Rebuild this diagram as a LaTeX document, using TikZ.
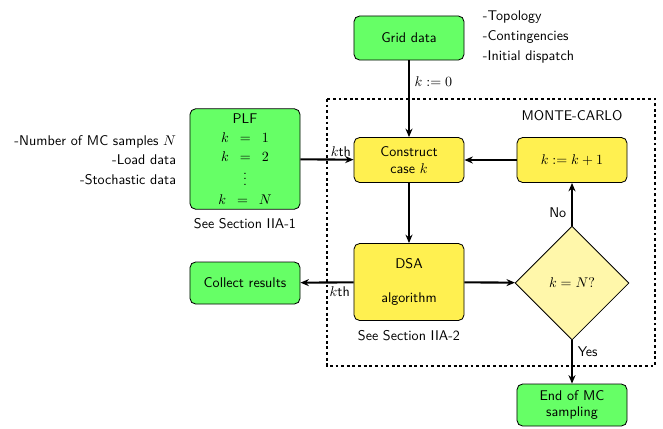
\documentclass[tikz,border=0pt]{standalone}
\definecolor{boxgreen}{RGB}{102, 255, 102}
\definecolor{boxyellow}{RGB}{255, 240, 80}
\definecolor{decyellow}{RGB}{255, 247, 170}
\usepackage{tikz}
\usetikzlibrary{shapes.geometric, arrows.meta, positioning}
\usepackage{amsmath, amssymb}

\begin{document}
\begin{tikzpicture}[x=0.025cm, y=-0.025cm, font=\sffamily,
  greenbox/.style={draw, semithick, fill=boxgreen, rounded corners=4pt, minimum width=2.75cm, minimum height=1.1cm, align=center},
  yellowbox/.style={draw, semithick, fill=boxyellow, rounded corners=4pt, minimum width=2.75cm, minimum height=1.125cm, align=center},
  decision/.style={diamond, draw, semithick, fill=decyellow, minimum width=2.85cm, minimum height=2.85cm, inner sep=0pt},
  flow/.style={-{Stealth[length=6pt, width=5pt]}, line width=1.5pt}]
  \useasboundingbox (0,0) rectangle (663,428);

  % monte-carlo loop
  \draw[line width=1.5pt, dash pattern=on 2pt off 2pt] (327,99) rectangle (655,366);
  \node (mc) at (572,116) {MONTE-CARLO};

  \node[greenbox] (grid) at (409,38) {Grid data};
  \node[anchor=west, align=left] (gridinfo) at (478,37) {-Topology\\[2pt]-Contingencies\\[2pt]-Initial dispatch};

  \node[greenbox, minimum height=2.3cm] (plf) at (245,159) {PLF\\[1.5pt]$k\ \,=\ \,1$\\[1.5pt]$k\ \,=\ \,2$\\[1.5pt]$\boldsymbol{\vdots}$\\[1.5pt]$k\ \,=\ \,N$};
  \node[below=3pt of plf] (sec1) {See Section IIA-1};
  \node[anchor=east, align=right] (plfinfo) at (181,160) {-Number of MC samples $N$\\[2pt]-Load data\\[2pt]-Stochastic data};

  \node[yellowbox] (construct) at (409,160) {Construct\\case $k$};
  \node[yellowbox] (incr) at (572,160) {$k := k+1$};
  \node[yellowbox, minimum height=1.925cm] (dsa) at (409,282) {DSA\\[12pt]algorithm};
  \node[below=3pt of dsa] (sec2) {See Section IIA-2};
  \node[greenbox, minimum height=1.05cm] (collect) at (245,283) {Collect results};
  \node[decision] (check) at (572,283) {$k = N?$};
  \node[greenbox, minimum height=1.05cm] (endmc) at (572,405) {End of MC\\sampling};

  \draw[flow] (grid) -- node[right, pos=0.27] {$k := 0$} (construct);
  \draw[flow] (plf) -- node[above, pos=0.76, inner sep=1pt] {$k$th} (construct);
  \draw[flow] (incr) -- (construct);
  \draw[flow] (construct) -- (dsa);
  \draw[flow] (dsa) -- node[below, pos=0.26, inner sep=2pt] {$k$th} (collect);
  \draw[flow] (dsa) -- (check);
  \draw[flow] (check) -- node[left, pos=0.3] {No} (incr);
  \draw[flow] (check) -- node[right, pos=0.27] {Yes} (endmc);
\end{tikzpicture}
\end{document}
